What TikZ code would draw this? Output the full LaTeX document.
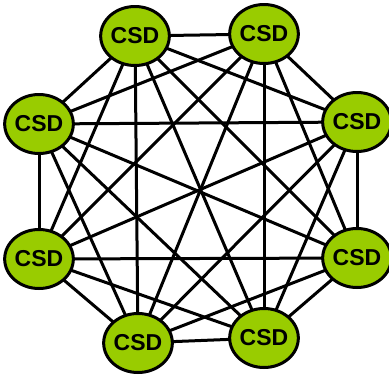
\documentclass[tikz,border=0pt]{standalone}
\usepackage{fontspec}
\setmainfont{Liberation Sans}
\usetikzlibrary{shapes.geometric}
\definecolor{csdgreen}{RGB}{153,204,0}
\pgfdeclarelayer{bg}
\pgfsetlayers{bg,main}
\tikzset{
  csd/.style={ellipse, draw=black, line width=3pt, fill=csdgreen,
    minimum width=63pt, minimum height=59pt, inner sep=0pt,
    font=\fontsize{23}{23}\selectfont\bfseries},
  link/.style={line width=3pt, black}
}
\begin{document}
\begin{tikzpicture}[x=1pt,y=-1pt]
  \useasboundingbox (0,0) rectangle (389,376);
  \node[csd] (n1) at (135,36) {CSD};
  \node[csd] (n2) at (264,34) {CSD};
  \node[csd] (n3) at (357,122) {CSD};
  \node[csd] (n4) at (357,258) {CSD};
  \node[csd] (n5) at (264,338) {CSD};
  \node[csd] (n6) at (138,343) {CSD};
  \node[csd] (n7) at (39,259) {CSD};
  \node[csd] (n8) at (39,124) {CSD};
  % every pair of stations is linked, centre to centre, beneath the nodes
  \begin{pgfonlayer}{bg}
    \foreach \a/\b in {1/2,1/3,1/4,1/5,1/6,1/7,1/8,
                       2/3,2/4,2/5,2/6,2/7,2/8,
                       3/4,3/5,3/6,3/7,3/8,
                       4/5,4/6,4/7,4/8,
                       5/6,5/7,5/8,
                       6/7,6/8,
                       7/8}
      \draw[link] (n\a.center) -- (n\b.center);
  \end{pgfonlayer}
\end{tikzpicture}
\end{document}
